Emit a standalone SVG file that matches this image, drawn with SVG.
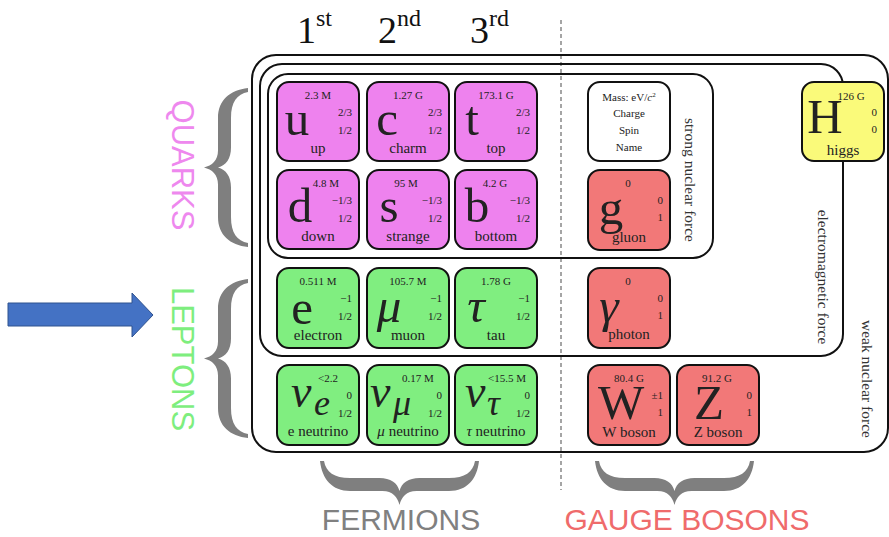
<svg xmlns="http://www.w3.org/2000/svg" width="889" height="537" viewBox="0 0 889 537">
<style>
text{font-family:"Liberation Serif","Times New Roman",serif;fill:#222}
.sans{font-family:"Liberation Sans",Arial,sans-serif}
.frame{fill:none;stroke:#111;stroke-width:2}
.card{stroke:#111;stroke-width:2}
.q{fill:#EE82EE}.l{fill:#80EE80}.b{fill:#F27878}.h{fill:#FAFA7A}.w{fill:#fff}
.m{font-size:11px;text-anchor:middle}
.c{font-size:11px;text-anchor:end}
.n{font-size:15px;text-anchor:middle}
.s{font-size:49px;text-anchor:middle}
.si{font-size:49px;text-anchor:middle;font-style:italic}
.nu{font-size:46px;font-style:italic}
.sub{font-size:36px;font-style:italic}
.force{font-size:15.5px;text-anchor:middle;fill:#333}
.hdr{font-size:38px;fill:#111}
.brace{fill:#7F7F7F}
</style>
<defs>
<path id="brace" d="M0,0 C2,18 12,30 30,30 L62.5,30 C72.5,30 77.5,36 79.5,44 C81.5,36 86.5,30 96.5,30 L129,30 C147,30 157,18 159,0 L155,0 C153,11 145,17 129,17 L99.5,17 C88.5,17 81.5,22 79.5,30 C77.5,22 70.5,17 59.5,17 L30,17 C14,17 6,11 4,0 Z"/>
</defs>

<g id="headers">
<text class="hdr" x="297" y="43">1<tspan font-size="24" y="26">st</tspan></text>
<text class="hdr" x="378" y="43">2<tspan font-size="24" y="26">nd</tspan></text>
<text class="hdr" x="470" y="43">3<tspan font-size="24" y="26">rd</tspan></text>
</g>

<g id="divider">
<line x1="561" y1="20" x2="561" y2="490" stroke="#888" stroke-width="1.5" stroke-dasharray="4,3"/>
</g>

<g id="force-boxes">
<rect id="weak" class="frame" x="252" y="55" width="636" height="397" rx="24"/>
<rect id="em" class="frame" x="260" y="64" width="583" height="292" rx="22"/>
<rect id="strong" class="frame" x="268" y="74" width="445" height="184" rx="20"/>
<text class="force" transform="translate(685,180) rotate(90)">strong nuclear force</text>
<text class="force" transform="translate(818,277) rotate(90)">electromagnetic force</text>
<text class="force" transform="translate(862,379) rotate(90)">weak nuclear force</text>
</g>

<g id="up"><rect class="card q" x="277" y="82" width="82" height="79" rx="12"/>
<text class="m" x="318" y="99">2.3 M</text><text class="c" x="352" y="116">2/3</text><text class="c" x="352" y="134">1/2</text>
<text class="s" x="297" y="135">u</text><text class="n" x="318" y="153">up</text></g>
<g id="charm"><rect class="card q" x="367" y="82" width="82" height="79" rx="12"/>
<text class="m" x="408" y="99">1.27 G</text><text class="c" x="442" y="116">2/3</text><text class="c" x="442" y="134">1/2</text>
<text class="s" x="387" y="135">c</text><text class="n" x="408" y="153">charm</text></g>
<g id="top"><rect class="card q" x="455" y="82" width="82" height="79" rx="12"/>
<text class="m" x="496" y="99">173.1 G</text><text class="c" x="530" y="116">2/3</text><text class="c" x="530" y="134">1/2</text>
<text class="s" x="472" y="135">t</text><text class="n" x="496" y="153">top</text></g>

<g id="down"><rect class="card q" x="277" y="170" width="82" height="79" rx="12"/>
<text class="m" x="326" y="187">4.8 M</text><text class="c" x="352" y="204">−1/3</text><text class="c" x="352" y="222">1/2</text>
<text class="s" x="300" y="222" font-size="42">d</text><text class="n" x="318" y="241">down</text></g>
<g id="strange"><rect class="card q" x="367" y="170" width="82" height="79" rx="12"/>
<text class="m" x="406" y="187">95 M</text><text class="c" x="442" y="204">−1/3</text><text class="c" x="442" y="222">1/2</text>
<text class="s" x="389" y="222">s</text><text class="n" x="408" y="241">strange</text></g>
<g id="bottom"><rect class="card q" x="455" y="170" width="82" height="79" rx="12"/>
<text class="m" x="495" y="187">4.2 G</text><text class="c" x="530" y="204">−1/3</text><text class="c" x="530" y="222">1/2</text>
<text class="s" x="477" y="222" font-size="42">b</text><text class="n" x="496" y="241">bottom</text></g>

<g id="electron"><rect class="card l" x="277" y="268" width="82" height="80" rx="12"/>
<text class="m" x="318" y="285">0.511 M</text><text class="c" x="352" y="302">−1</text><text class="c" x="352" y="320">1/2</text>
<text class="s" x="302" y="324">e</text><text class="n" x="318" y="340">electron</text></g>
<g id="muon"><rect class="card l" x="367" y="268" width="82" height="80" rx="12"/>
<text class="m" x="408" y="285">105.7 M</text><text class="c" x="442" y="302">−1</text><text class="c" x="442" y="320">1/2</text>
<text class="si" x="389" y="322">μ</text><text class="n" x="408" y="340">muon</text></g>
<g id="tau"><rect class="card l" x="455" y="268" width="82" height="80" rx="12"/>
<text class="m" x="496" y="285">1.78 G</text><text class="c" x="530" y="302">−1</text><text class="c" x="530" y="320">1/2</text>
<text class="si" x="476" y="322">τ</text><text class="n" x="496" y="340">tau</text></g>

<g id="e-neutrino"><rect class="card l" x="277" y="365" width="82" height="80" rx="12"/>
<text class="m" x="328" y="382">&lt;2.2</text><text class="c" x="352" y="399">0</text><text class="c" x="352" y="417">1/2</text>
<text class="nu" x="291" y="407">ν</text><text class="sub" x="314" y="415">e</text>
<text class="n" x="318" y="436">e neutrino</text></g>
<g id="mu-neutrino"><rect class="card l" x="367" y="365" width="82" height="80" rx="12"/>
<text class="m" x="418" y="382">0.17 M</text><text class="c" x="442" y="399">0</text><text class="c" x="442" y="417">1/2</text>
<text class="nu" x="370" y="407">ν</text><text class="sub" x="393" y="415">μ</text>
<text class="n" x="408" y="436"><tspan font-style="italic">μ</tspan> neutrino</text></g>
<g id="tau-neutrino"><rect class="card l" x="455" y="365" width="82" height="80" rx="12"/>
<text class="m" x="507" y="382">&lt;15.5 M</text><text class="c" x="530" y="399">0</text><text class="c" x="530" y="417">1/2</text>
<text class="nu" x="465" y="407">ν</text><text class="sub" x="487" y="415">τ</text>
<text class="n" x="496" y="436"><tspan font-style="italic">τ</tspan> neutrino</text></g>

<g id="legend"><rect class="card w" x="588" y="82" width="82" height="79" rx="12"/>
<text class="m" x="629" y="101">Mass: eV/<tspan font-style="italic">c</tspan><tspan font-size="7" dy="-4">2</tspan></text>
<text class="m" x="629" y="117">Charge</text><text class="m" x="629" y="134">Spin</text><text class="m" x="629" y="151">Name</text></g>

<g id="gluon"><rect class="card b" x="588" y="170" width="82" height="80" rx="12"/>
<text class="m" x="628" y="187">0</text><text class="c" x="663" y="204">0</text><text class="c" x="663" y="221">1</text>
<text class="s" x="611" y="224">g</text><text class="n" x="629" y="242">gluon</text></g>
<g id="photon"><rect class="card b" x="588" y="268" width="82" height="80" rx="12"/>
<text class="m" x="628" y="285">0</text><text class="c" x="663" y="302">0</text><text class="c" x="663" y="319">1</text>
<text class="si" x="609" y="322">γ</text><text class="n" x="629" y="339">photon</text></g>
<g id="w-boson"><rect class="card b" x="588" y="365" width="82" height="80" rx="12"/>
<text class="m" x="629" y="382">80.4 G</text><text class="c" x="663" y="399">±1</text><text class="c" x="663" y="416">1</text>
<text class="s" x="621" y="419" font-size="42">W</text><text class="n" x="629" y="437">W boson</text></g>
<g id="z-boson"><rect class="card b" x="677" y="365" width="82" height="80" rx="12"/>
<text class="m" x="717" y="382">91.2 G</text><text class="c" x="752" y="399">0</text><text class="c" x="752" y="416">1</text>
<text class="s" x="709" y="419" font-size="42">Z</text><text class="n" x="718" y="437">Z boson</text></g>

<g id="higgs"><rect class="card h" x="802" y="82" width="82" height="79" rx="12"/>
<text class="m" x="851" y="100">126 G</text><text class="c" x="877" y="116">0</text><text class="c" x="877" y="133">0</text>
<text class="s" x="825" y="133" font-size="43">H</text><text class="n" x="843" y="155">higgs</text></g>

<g id="quarks-label">
<use href="#brace" class="brace" transform="translate(248,88) rotate(90)"/>
<text class="sans" transform="translate(172,165) rotate(90)" font-size="31" text-anchor="middle" style="fill:#EE88EE">QUARKS</text>
</g>
<g id="leptons-label">
<use href="#brace" class="brace" transform="translate(248,279) rotate(90)"/>
<text class="sans" transform="translate(172,359) rotate(90)" font-size="31" text-anchor="middle" style="fill:#7EEE7E">LEPTONS</text>
</g>
<g id="fermions-label">
<use href="#brace" class="brace" transform="translate(320,461)"/>
<text class="sans" x="401" y="530" font-size="30" text-anchor="middle" style="fill:#808080">FERMIONS</text>
</g>
<g id="gauge-label">
<use href="#brace" class="brace" transform="translate(595,461)"/>
<text class="sans" x="687" y="530" font-size="30" text-anchor="middle" style="fill:#EF6B6B">GAUGE BOSONS</text>
</g>

<g id="connectors">
<polygon points="8,303 132,303 132,293 153,315 132,337 132,326 8,326" fill="#4472C4" stroke="#2F528F" stroke-width="1"/>
</g>
</svg>
